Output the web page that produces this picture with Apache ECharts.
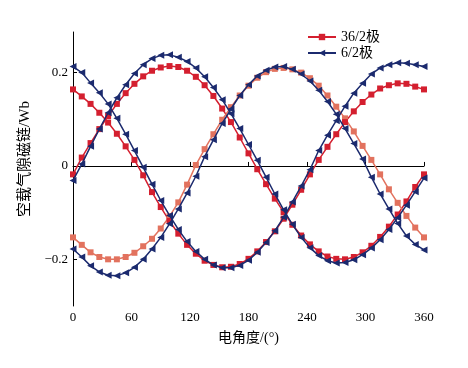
<!DOCTYPE html>
<html>
<head>
<meta charset="utf-8">
<script src="https://cdn.jsdelivr.net/npm/echarts@6/dist/echarts.min.js"></script>
<style>
html,body{margin:0;padding:0;background:#fff;}
#chart{width:468px;height:368px;}
</style>
</head>
<body>
<div id="chart"></div>
<script>
var angles = [0,9,18,27,36,45,54,63,72,81,90,99,108,117,126,135,144,153,162,171,180,189,198,207,216,225,234,243,252,261,270,279,288,297,306,315,324,333,342,351,360];
var xTicks = [0,60,120,180,240,300,360];
var yTicks = [-0.2,0,0.2];
// 36/2 pole, three phases
var p36A = [-0.018,0.018,0.049,0.079,0.107,0.133,0.156,0.176,0.192,0.204,0.211,0.214,0.212,0.204,0.191,0.173,0.150,0.123,0.094,0.061,0.027,-0.007,-0.039,-0.070,-0.099,-0.126,-0.149,-0.168,-0.183,-0.194,-0.199,-0.200,-0.195,-0.185,-0.171,-0.152,-0.130,-0.104,-0.076,-0.045,-0.018];
var p36B = [-0.153,-0.169,-0.185,-0.195,-0.200,-0.200,-0.195,-0.186,-0.172,-0.156,-0.134,-0.108,-0.078,-0.040,0.002,0.036,0.068,0.099,0.126,0.151,0.172,0.189,0.201,0.208,0.210,0.207,0.200,0.188,0.172,0.151,0.127,0.102,0.074,0.043,0.013,-0.018,-0.050,-0.079,-0.107,-0.132,-0.153];
var p36C = [0.164,0.149,0.133,0.114,0.093,0.069,0.042,0.013,-0.020,-0.056,-0.088,-0.118,-0.145,-0.169,-0.188,-0.203,-0.212,-0.217,-0.216,-0.210,-0.199,-0.183,-0.163,-0.140,-0.113,-0.083,-0.051,-0.018,0.013,0.041,0.068,0.094,0.117,0.137,0.153,0.166,0.173,0.177,0.176,0.170,0.164];
// 6/2 pole, three phases
var p6A = [-0.031,0.004,0.042,0.079,0.114,0.146,0.174,0.198,0.217,0.230,0.237,0.238,0.233,0.224,0.210,0.191,0.168,0.142,0.112,0.080,0.046,0.012,-0.024,-0.060,-0.094,-0.125,-0.153,-0.175,-0.192,-0.203,-0.208,-0.207,-0.201,-0.190,-0.176,-0.158,-0.136,-0.111,-0.084,-0.055,-0.026];
var p6B = [-0.178,-0.195,-0.214,-0.227,-0.234,-0.235,-0.229,-0.217,-0.200,-0.178,-0.153,-0.124,-0.092,-0.058,-0.022,0.020,0.056,0.091,0.122,0.151,0.174,0.193,0.205,0.212,0.213,0.207,0.197,0.182,0.162,0.138,0.111,0.080,0.048,0.015,-0.024,-0.060,-0.092,-0.123,-0.150,-0.168,-0.180];
var p6C = [0.213,0.200,0.178,0.157,0.133,0.102,0.068,0.033,-0.003,-0.039,-0.074,-0.106,-0.136,-0.162,-0.183,-0.200,-0.212,-0.218,-0.218,-0.213,-0.202,-0.185,-0.164,-0.139,-0.110,-0.077,-0.043,-0.008,0.033,0.066,0.097,0.128,0.156,0.177,0.197,0.210,0.217,0.221,0.220,0.217,0.213];

var name36 = '36/2极', name6 = '6/2极';
var RED = '#d41f2f', SALMON = '#e2725e', NAVY = '#1b2a6e';
var FONT = '"Liberation Serif", "Noto Sans CJK SC", serif';

function pairs(vals){ return angles.map(function(a,i){ return [a, vals[i]]; }); }
function s36(vals, color){
  return {name:name36, type:'line', data:pairs(vals), symbol:'rect', symbolSize:6,
    lineStyle:{color:color, width:1.5}, itemStyle:{color:color}, z:2};
}
function s6(vals){
  return {name:name6, type:'line', data:pairs(vals), symbol:'triangle', symbolRotate:90, symbolSize:7,
    lineStyle:{color:NAVY, width:1.5}, itemStyle:{color:NAVY}, z:3};
}

var chart = echarts.init(document.getElementById('chart'), null, {renderer:'canvas'});
chart.setOption({
  animation:false,
  backgroundColor:'#fff',
  grid:{left:73, right:44, top:32, bottom:62, containLabel:false},
  legend:{
    data:[name36, name6], orient:'vertical', left:302, top:25, padding:5,
    itemWidth:28, itemHeight:8, itemGap:2,
    textStyle:{fontFamily:FONT, fontSize:14, color:'#000'}
  },
  xAxis:{
    type:'value', min:0, max:360, interval:60,
    name:'电角度/(°)', nameLocation:'middle', nameGap:25,
    nameTextStyle:{fontFamily:FONT, fontSize:14, color:'#000'},
    axisLine:{show:true, lineStyle:{color:'#000', width:1}},
    axisTick:{show:true, inside:true, length:4, lineStyle:{color:'#000'}},
    axisLabel:{fontFamily:FONT, fontSize:13, color:'#000', margin:5},
    splitLine:{show:false}
  },
  yAxis:{
    type:'value', min:-0.3, max:0.287,
    name:'空载气隙磁链/Wb', nameLocation:'middle', nameGap:40,
    nameTextStyle:{fontFamily:FONT, fontSize:15, color:'#000', padding:[0,0,0,20]},
    axisLine:{show:true, lineStyle:{color:'#000', width:1}},
    axisTick:{show:true, inside:true, length:4, customValues:yTicks, lineStyle:{color:'#000'}},
    axisLabel:{fontFamily:FONT, fontSize:13, color:'#000', margin:5, customValues:yTicks,
      formatter:function(v){ if (Math.abs(v)<1e-9) return '0'; return (v<0?'\u2212':'') + Math.abs(v).toFixed(1); }},
    splitLine:{show:false}
  },
  series:[
    s36(p36A, RED), s36(p36B, SALMON), s36(p36C, RED),
    s6(p6A), s6(p6B), s6(p6C)
  ]
});
</script>
</body>
</html>
